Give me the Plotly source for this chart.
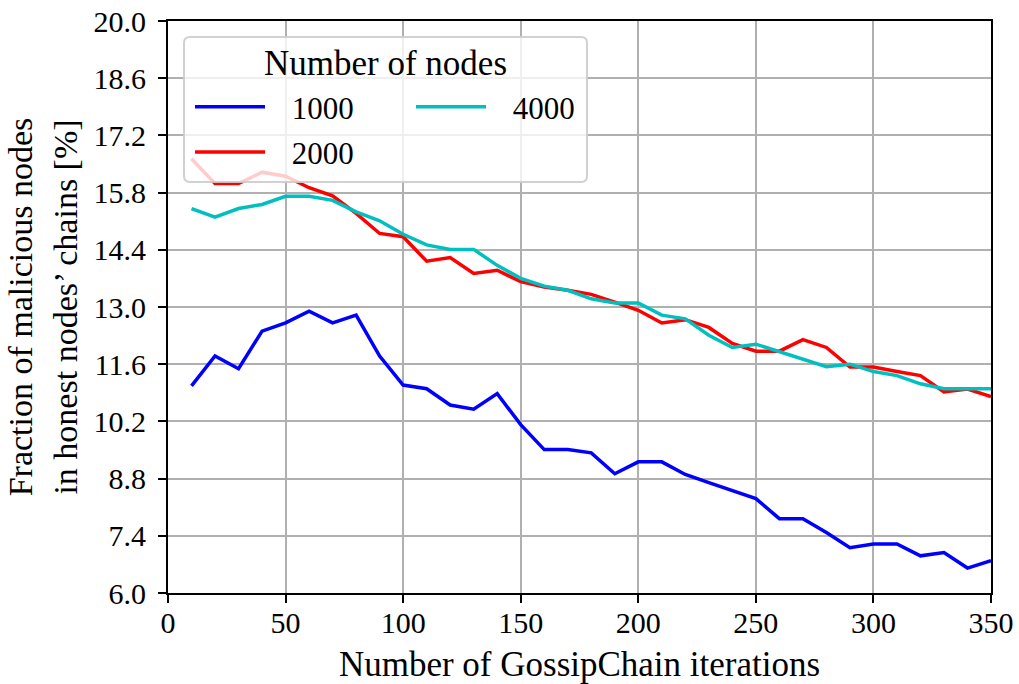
import plotly.graph_objects as go

iterations = list(range(10, 351, 10))

nodes_1000 = [11.07, 11.80, 11.49, 12.41, 12.61, 12.90, 12.61, 12.80, 11.80, 11.09,
              11.00, 10.60, 10.50, 10.88, 10.12, 9.51, 9.51, 9.43, 8.92, 9.21,
              9.21, 8.90, 8.70, 8.51, 8.31, 7.82, 7.82, 7.48, 7.11, 7.20,
              7.20, 6.91, 6.99, 6.61, 6.79]
nodes_2000 = [16.63, 16.02, 16.02, 16.30, 16.20, 15.92, 15.72, 15.29, 14.80, 14.72,
              14.12, 14.21, 13.82, 13.90, 13.62, 13.49, 13.41, 13.31, 13.12, 12.92,
              12.61, 12.69, 12.50, 12.11, 11.92, 11.92, 12.20, 12.01, 11.53, 11.53,
              11.42, 11.32, 10.92, 10.99, 10.81]
nodes_4000 = [15.41, 15.20, 15.41, 15.51, 15.71, 15.71, 15.61, 15.33, 15.11, 14.78,
              14.52, 14.41, 14.41, 14.02, 13.70, 13.51, 13.41, 13.20, 13.10, 13.10,
              12.80, 12.71, 12.31, 12.01, 12.09, 11.90, 11.72, 11.54, 11.60, 11.42,
              11.32, 11.12, 11.00, 11.00, 11.00]

series_names = ["1000", "2000", "4000"]
series_colors = ["#0000ff", "#ff0000", "#00bfbf"]
series_legend = ["legend", "legend", "legend2"]

FONT = "'Liberation Serif', 'Times New Roman', serif"
FS_TICK = 30
FS_LEG = 31
FS_LEGTITLE = 35
FS_XTITLE = 35
FS_YTITLE = 34

W_FIG, H_FIG = 1019, 684
L, T, PW, PH = 168, 21, 823, 572


def px(xp):
    return (xp - L) / PW


def py(yp):
    return 1 - (yp - T) / PH


fig = go.Figure()
for name, vals, col, lg in zip(series_names, [nodes_1000, nodes_2000, nodes_4000],
                               series_colors, series_legend):
    fig.add_trace(go.Scatter(x=iterations, y=vals, mode="lines",
                             name="\u00a0\u00a0\u2009" + name,
                             line=dict(color=col, width=3.5), legend=lg,
                             legendgroup=name))

# legend frame (rounded, semi-transparent white)
x0, x1, y0, y1, r = 184, 587, 37, 182, 6
rx, ry = r / PW, r / PH
X0, X1, Y0, Y1 = px(x0), px(x1), py(y0), py(y1)
path = (f"M{X0+rx},{Y0} L{X1-rx},{Y0} Q{X1},{Y0} {X1},{Y0-ry} "
        f"L{X1},{Y1+ry} Q{X1},{Y1} {X1-rx},{Y1} L{X0+rx},{Y1} "
        f"Q{X0},{Y1} {X0},{Y1+ry} L{X0},{Y0-ry} Q{X0},{Y0} {X0+rx},{Y0} Z")
fig.add_shape(type="path", path=path, xref="paper", yref="paper",
              fillcolor="rgba(255,255,255,0.8)",
              line=dict(color="rgba(204,204,204,0.9)", width=2), layer="above")

fig.add_annotation(text="Number of nodes", x=px(385.5), y=py(63), xref="paper", yref="paper",
                   showarrow=False, xanchor="center", yanchor="middle",
                   font=dict(family=FONT, size=FS_LEGTITLE, color="black"))

axis_common = dict(showline=True, linecolor="black", linewidth=2, mirror=True,
                   ticks="outside", ticklen=8, tickwidth=1.5, tickcolor="black",
                   showgrid=True, gridcolor="#b0b0b0", gridwidth=1.6, zeroline=False,
                   automargin=False,
                   tickfont=dict(family=FONT, size=FS_TICK, color="black"))

fig.update_layout(
    width=W_FIG, height=H_FIG,
    margin=dict(l=L, r=W_FIG - L - PW, t=T, b=H_FIG - T - PH, autoexpand=False),
    paper_bgcolor="white", plot_bgcolor="white",
    font=dict(family=FONT, size=FS_TICK, color="black"),
    xaxis=dict(range=[0, 350], dtick=50, tick0=0, ticklabelstandoff=-6,
               title=dict(text="Number of GossipChain iterations",
                          font=dict(family=FONT, size=FS_XTITLE), standoff=14),
               **axis_common),
    yaxis=dict(range=[6, 20], dtick=1.4, tick0=6, tickformat=".1f", ticklabelstandoff=6,
               title=dict(text="Fraction of malicious nodes<br>in honest nodes’ chains [%]",
                          font=dict(family=FONT, size=FS_YTITLE), standoff=6),
               **axis_common),
    legend=dict(x=px(190), y=py(80), xanchor="left", yanchor="top",
                bgcolor="rgba(0,0,0,0)", borderwidth=0, itemwidth=70,
                tracegroupgap=2, font=dict(family=FONT, size=FS_LEG, color="black")),
    legend2=dict(x=px(411), y=py(80), xanchor="left", yanchor="top",
                 bgcolor="rgba(0,0,0,0)", borderwidth=0, itemwidth=70,
                 tracegroupgap=2, font=dict(family=FONT, size=FS_LEG, color="black")),
    showlegend=True,
)

fig.write_html("out.html")
